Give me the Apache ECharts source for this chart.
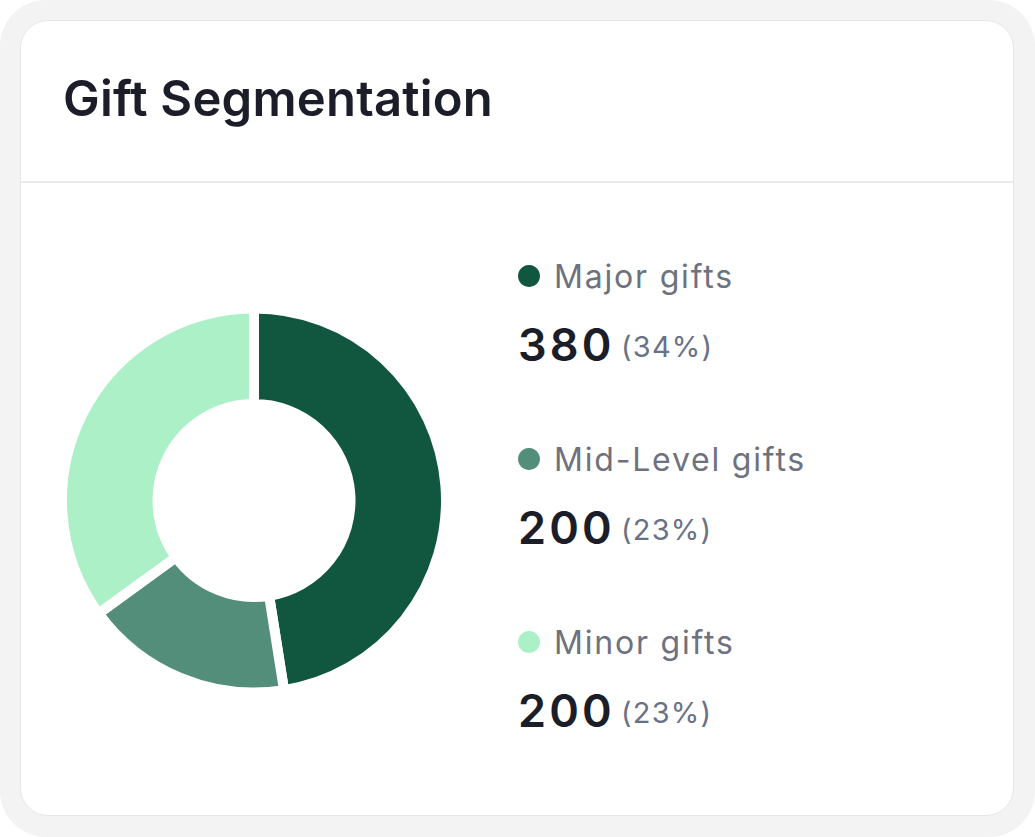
<!DOCTYPE html>
<html>
<head>
<meta charset="utf-8">
<script src="https://cdn.jsdelivr.net/npm/echarts@6/dist/echarts.min.js"></script>
<style>
    html, body { margin: 0; padding: 0; background: #ffffff; }
    #frame {
        position: absolute; left: 0; top: 0; width: 1035px; height: 837px;
        background: #f3f3f3; border-radius: 46px;
    }
    #card {
        position: absolute; left: 20px; top: 20px; width: 992px; height: 794px;
        background: #ffffff; border: 1px solid #e6e6e6; border-radius: 28px;
    }
    #divider {
        position: absolute; left: 0; top: 160px; width: 992px; height: 2px;
        background: #ebebeb;
    }
    #chart { position: absolute; left: 0; top: 0; width: 1035px; height: 837px; }
</style>
</head>
<body>
<div id="frame"><div id="card"><div id="divider"></div></div></div>
<div id="chart"></div>
<script>
var categories = ['Major gifts', 'Mid-Level gifts', 'Minor gifts'];
// slice sizes as drawn in the donut
var sliceValues = [380, 140, 280];
// figures printed next to each legend entry
var shownValues = [380, 200, 200];
var shownPercents = ['34%', '23%', '23%'];
var colors = ['#115740', '#538e7b', '#abf0c7'];

// extra tracking per font size (the reference type is a little looser than Inter)
var tracking = {'32px': '1.8px', '45px': '3.2px', '29px': '1.2px', '49px': '0.2px'};

function applyTracking(dom) {
    var texts = dom.querySelectorAll('text');
    for (var i = 0; i < texts.length; i++) {
        var fs = window.getComputedStyle(texts[i]).fontSize;
        if (tracking[fs]) {
            texts[i].style.letterSpacing = tracking[fs];
        }
    }
}

function drawGifts() {
    var dom = document.getElementById('chart');
    var myChart = echarts.init(dom, null, {renderer: 'svg'});

    var pieData = [];
    var legendItems = [];
    legendItems.push({
        type: 'text',
        x: 63, y: 98.5,
        style: {
            text: 'Gift Segmentation', fill: '#1b1e28',
            font: '600 49px Inter', verticalAlign: 'middle'
        }
    });
    for (var i = 0; i < categories.length; i++) {
        pieData.push({
            name: categories[i],
            value: sliceValues[i],
            itemStyle: {color: colors[i]}
        });
        var y = 276 + i * 183;
        legendItems.push({
            type: 'circle',
            shape: {cx: 529, cy: y, r: 11},
            style: {fill: colors[i]}
        });
        legendItems.push({
            type: 'text',
            x: 554, y: y,
            style: {
                text: categories[i], fill: '#6e717e',
                font: '400 32px Inter', verticalAlign: 'middle'
            }
        });
        legendItems.push({
            type: 'text',
            x: 518, y: y + 68,
            style: {
                text: String(shownValues[i]), fill: '#1b1e28',
                font: '600 45px Inter', verticalAlign: 'middle'
            }
        });
        legendItems.push({
            type: 'text',
            x: 621, y: y + 70,
            style: {
                text: '(' + shownPercents[i] + ')', fill: '#687186',
                font: '400 29px Inter', verticalAlign: 'middle'
            }
        });
    }

    var option = {
        animation: false,
        tooltip: {show: false},
        graphic: legendItems,
        series: [
            {
                name: 'Gift Segmentation',
                type: 'pie',
                center: [254, 500.5],
                radius: [96.5, 192],
                startAngle: 90,
                clockwise: true,
                label: {show: false},
                labelLine: {show: false},
                emphasis: {disabled: true},
                itemStyle: {borderColor: '#ffffff', borderWidth: 10},
                data: pieData
            }
        ]
    };

    myChart.setOption(option);
    applyTracking(dom);
    myChart.on('finished', function () {
        applyTracking(dom);
    });
}

drawGifts();
</script>
</body>
</html>
